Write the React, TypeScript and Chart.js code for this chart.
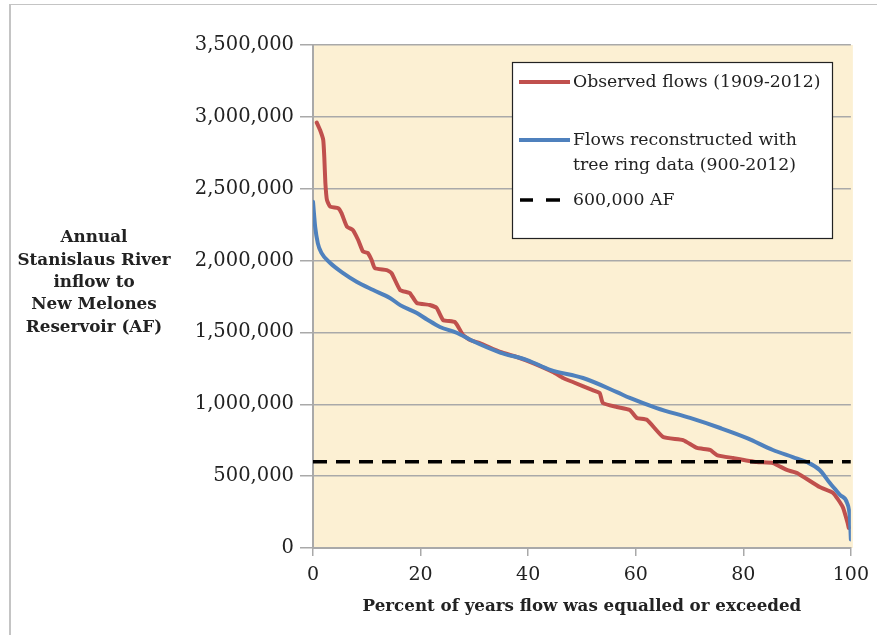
import React, { useEffect, useRef } from "react";
import { Chart, registerables } from "chart.js";

Chart.register(...registerables);

// ---------- data ----------
const X_TICKS = [0, 20, 40, 60, 80, 100];
const Y_TICKS = [0, 500000, 1000000, 1500000, 2000000, 2500000, 3000000, 3500000];

const observedPct = [
  0.7, 1.3, 1.9, 2.1, 2.3, 2.6, 3.2, 4.7, 5.3, 6.3, 7.4, 8.4, 9.3, 10.2, 10.9, 11.5, 13.7, 14.6,
  16.2, 18.0, 19.3, 21.7, 23.0, 24.2, 26.4, 27.9, 29.2, 31.0, 34.8, 37.9, 40.9, 44.6, 46.5, 48.3,
  52.0, 53.3, 53.9, 56.5, 58.9, 60.2, 62.1, 65.1, 68.8, 71.4, 73.8, 75.1, 78.1, 82.5, 85.5, 88.1,
  90.0, 94.2, 96.7, 98.5, 99.4, 99.6,
];
const observedFlow = [
  2960000, 2910000, 2840000, 2720000, 2540000, 2420000, 2375000, 2364000, 2330000, 2236000,
  2213000, 2143000, 2062000, 2053000, 2004000, 1948000, 1934000, 1913000, 1795000, 1774000,
  1705000, 1691000, 1670000, 1586000, 1572000, 1482000, 1447000, 1426000, 1364000, 1329000,
  1287000, 1225000, 1183000, 1155000, 1099000, 1078000, 1009000, 981000, 960000, 905000,
  891000, 772000, 751000, 696000, 682000, 647000, 626000, 598000, 591000, 543000,
  522000, 424000, 383000, 285000, 174000, 140000,
];

const reconPct = [
  0, 0.2, 0.4, 0.9, 1.6, 3.2, 5.6, 8.1, 11.2, 14.3, 16.2, 19.3, 21.2, 23.6, 26.8, 29.7, 34.8,
  39.8, 44.1, 50.2, 56.5, 58.9, 63.9, 70.1, 75.7, 80.7, 85.5, 89.2, 91.8, 94.2, 96.1, 98.0, 99.3,
  99.8, 100,
];
const reconFlow = [
  2410000, 2320000, 2235000, 2120000, 2052000, 1983000, 1913000, 1853000, 1795000, 1740000,
  1690000, 1635000, 1590000, 1538000, 1496000, 1440000, 1360000, 1308000, 1240000, 1183000,
  1085000, 1044000, 974000, 905000, 835000, 765000, 682000, 633000, 598000, 543000,
  452000, 369000, 313000, 216000, 60000,
];

const thresholdPct = [0, 100];
const thresholdFlow = [600000, 600000];

const seriesLabels = [
  ["Observed flows (1909-2012)"],
  ["Flows reconstructed with", "tree ring data (900-2012)"],
  ["600,000 AF"],
];
const yTitleLines = ["Annual", "Stanislaus River", "inflow to", "New Melones", "Reservoir (AF)"];
const xTitle = "Percent of years flow was equalled or exceeded";

// ---------- styles ----------
const FONT = "'DejaVu Serif', serif";
const RED = "#C0504D";
const BLUE = "#4F81BD";
const BG = "#FCF0D3";
const GRID = "#A9A9A9";
const TEXT = "#222222";

const toPoints = (xs: number[], ys: number[]) => xs.map((x, i) => ({ x, y: ys[i] }));

const bgPlugin = {
  id: "bgFill",
  beforeDraw(chart: any) {
    const { ctx, chartArea } = chart;
    ctx.save();
    ctx.fillStyle = BG;
    ctx.fillRect(chartArea.left, chartArea.top, chartArea.right - chartArea.left + 2, chartArea.bottom - chartArea.top);
    ctx.restore();
  },
};

const yTitlePlugin = {
  id: "yTitleHoriz",
  afterDraw(chart: any) {
    const { ctx } = chart;
    ctx.save();
    ctx.font = `bold 16.8px ${FONT}`;
    ctx.fillStyle = TEXT;
    ctx.textAlign = "center";
    ctx.textBaseline = "middle";
    yTitleLines.forEach((line, i) => {
      ctx.fillText(line, 94, 238 + i * 22.3);
    });
    ctx.restore();
  },
};

const legendPlugin = {
  id: "boxLegend",
  afterDraw(chart: any) {
    const { ctx } = chart;
    const ds = chart.data.datasets;
    ctx.save();
    ctx.fillStyle = "#ffffff";
    ctx.fillRect(512.5, 62.5, 320, 176);
    ctx.strokeStyle = "#222";
    ctx.lineWidth = 1.2;
    ctx.strokeRect(512.5, 62.5, 320, 176);
    const rows = [82, 140, 200];
    ctx.font = `17.3px ${FONT}`;
    ctx.textBaseline = "middle";
    ctx.textAlign = "left";
    ds.forEach((d: any, i: number) => {
      const y = rows[i];
      ctx.save();
      ctx.strokeStyle = d.borderColor;
      ctx.lineWidth = d.borderWidth;
      ctx.lineCap = "butt";
      ctx.beginPath();
      if (d.borderDash && d.borderDash.length) {
        ctx.moveTo(520, y);
        ctx.lineTo(533, y);
        ctx.moveTo(546, y);
        ctx.lineTo(560, y);
      } else {
        ctx.moveTo(519, y);
        ctx.lineTo(570, y);
      }
      ctx.stroke();
      ctx.restore();
      ctx.fillStyle = TEXT;
      seriesLabels[i].forEach((t, j) => ctx.fillText(t, 573, y + 1 + j * 25));
    });
    ctx.restore();
  },
};

export default function App() {
  const ref = useRef<HTMLCanvasElement | null>(null);

  useEffect(() => {
    if (!ref.current) return;
    const chart = new Chart(ref.current, {
      type: "line",
      data: {
        datasets: [
          {
            label: seriesLabels[0].join(" "),
            data: toPoints(observedPct, observedFlow),
            borderColor: RED,
            backgroundColor: RED,
            borderWidth: 4,
            pointRadius: 0,
            tension: 0.15,
            borderJoinStyle: "round",
            borderCapStyle: "round",
            order: 2,
          },
          {
            label: seriesLabels[1].join(" "),
            data: toPoints(reconPct, reconFlow),
            borderColor: BLUE,
            backgroundColor: BLUE,
            borderWidth: 4,
            pointRadius: 0,
            cubicInterpolationMode: "monotone",
            borderJoinStyle: "round",
            borderCapStyle: "round",
            order: 1,
          },
          {
            label: seriesLabels[2].join(" "),
            data: toPoints(thresholdPct, thresholdFlow),
            borderColor: "#000000",
            backgroundColor: "#000000",
            borderWidth: 3.5,
            borderDash: [14, 9],
            pointRadius: 0,
            order: 0,
          },
        ],
      },
      options: {
        animation: false,
        responsive: false,
        devicePixelRatio: 1,
        layout: { padding: { top: 45, right: 26, left: 0, bottom: 0 } },
        plugins: { legend: { display: false }, tooltip: { enabled: false } },
        scales: {
          x: {
            type: "linear",
            min: 0,
            max: 100,
            afterBuildTicks: (s: any) => {
              s.ticks = X_TICKS.map((v) => ({ value: v }));
            },
            afterFit: (s: any) => {
              s.height = 87;
            },
            ticks: {
              font: { family: FONT, size: 19 },
              color: TEXT,
              padding: 8,
              maxRotation: 0,
            },
            grid: {
              display: true,
              drawOnChartArea: false,
              drawTicks: true,
              tickLength: 8,
              color: GRID,
              lineWidth: 1.5,
            },
            border: { display: true, color: GRID, width: 2 },
            title: {
              display: true,
              text: xTitle,
              font: { family: FONT, size: 16.7, weight: "bold" },
              color: TEXT,
              padding: { top: 0, bottom: 18 },
            },
          },
          y: {
            type: "linear",
            min: 0,
            max: 3500000,
            afterBuildTicks: (s: any) => {
              s.ticks = Y_TICKS.map((v) => ({ value: v }));
            },
            afterFit: (s: any) => {
              s.width = 313;
            },
            ticks: {
              font: { family: FONT, size: 19.5 },
              color: TEXT,
              padding: 6,
              callback: (v: any) => Number(v).toLocaleString("en-US"),
            },
            grid: {
              display: true,
              drawOnChartArea: true,
              drawTicks: true,
              tickLength: 13,
              color: GRID,
              lineWidth: 1.5,
            },
            border: { display: true, color: GRID, width: 2 },
          },
        },
      },
      plugins: [bgPlugin, yTitlePlugin, legendPlugin],
    } as any);
    return () => chart.destroy();
  }, []);

  return (
    <div style={{ position: "absolute", left: 0, top: 0, width: 877, height: 635, background: "#fff", overflow: "hidden" }}>
      <div
        style={{
          position: "absolute",
          left: 9,
          top: 4,
          right: 0,
          bottom: 0,
          borderTop: "1px solid #c4c4c4",
          borderLeft: "2px solid #c4c4c4",
        }}
      />
      <canvas ref={ref} width={877} height={635} style={{ position: "absolute", left: 0, top: 0, width: 877, height: 635 }} />
    </div>
  );
}
